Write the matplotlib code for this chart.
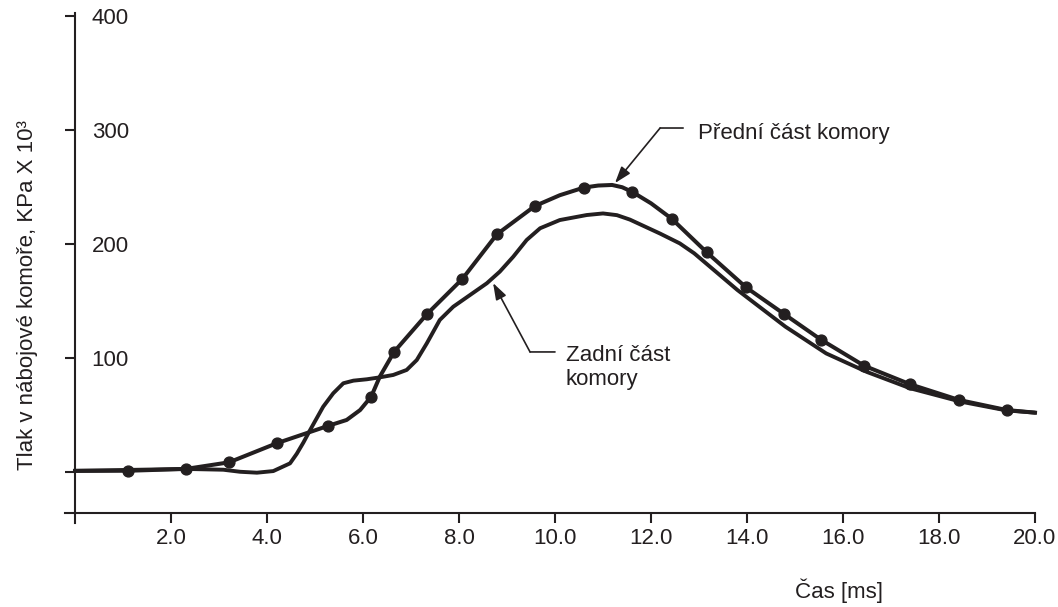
import matplotlib
matplotlib.use("Agg")
import matplotlib.pyplot as plt
from matplotlib.patches import ArrowStyle

# ---- data ----
front_x = [0.0, 1.11, 2.31, 3.21, 4.20, 5.28, 5.66, 5.94, 6.17, 6.35, 6.65, 7.33, 8.07,
           8.79, 9.58, 10.10, 10.60, 10.90, 11.19, 11.40, 11.61, 12.00, 12.43, 13.16,
           13.98, 14.77, 15.54, 16.44, 17.40, 18.42, 19.41, 20.0]
front_y = [1.0, 1.1, 2.7, 8.5, 25.2, 40.6, 45.7, 54.4, 66.1, 83.7, 105.6, 138.5, 169.5,
           208.7, 233.5, 243.0, 249.7, 251.5, 252.0, 250.0, 245.9, 235.9, 222.4, 192.9,
           162.1, 138.8, 116.2, 93.3, 77.0, 63.2, 54.4, 52.1]
front_dots = [1, 2, 3, 4, 5, 8, 10, 11, 12, 13, 14, 16, 20, 22, 23, 24, 25, 26, 27,
              28, 29, 30]

rear_x = [0.0, 2.3, 3.09, 3.44, 3.79, 4.13, 4.48, 4.62, 4.76, 4.90, 5.17, 5.38, 5.59,
          5.80, 6.08, 6.35, 6.63, 6.91, 7.12, 7.33, 7.60, 7.88, 8.23, 8.58, 8.85, 9.13,
          9.41, 9.69, 10.10, 10.66, 11.0, 11.29, 11.56, 12.19, 12.6, 12.9, 13.8, 14.8,
          15.65, 16.5, 17.4, 18.45, 19.4, 20.0]
rear_y = [1.0, 2.7, 2.0, 0.2, -0.6, 0.8, 7.6, 16, 26, 37, 57.3, 69.1, 77.9,
          80.2, 81.4, 83.1, 85.2, 89.6, 98.3, 113.0, 133.5, 145.1, 155.4, 165.7, 175.9,
          189.0, 203.7, 214.0, 221.2, 225.6, 227.0, 225.5, 221.6, 209.3, 200.7, 192.0,
          159.8, 127.6, 104.1, 87.8, 73.5, 61.8, 54.1, 52.1]

x_ticks = [2, 4, 6, 8, 10, 12, 14, 16, 18, 20]
x_labels = ["2.0", "4.0", "6.0", "8.0", "10.0", "12.0", "14.0", "16.0", "18.0", "20.0"]
y_ticks = [0, 100, 200, 300, 400]
y_labels = ["", "100", "200", "300", "400"]

INK = "#231f20"
plt.rcParams["font.family"] = ["Liberation Sans", "DejaVu Sans"]

W, H = 1058, 607
fig = plt.figure(figsize=(W / 100, H / 100), dpi=100)

# axes placement in pixels
x_left_px, x_right_px = 65.4, 1039.8
y_top_px, y_bot_px = 5.0, 523.2
ax = fig.add_axes([x_left_px / W, 1 - y_bot_px / H,
                   (x_right_px - x_left_px) / W, (y_bot_px - y_top_px) / H])
ax.set_xlim(-0.2, 20.1)
ax.set_ylim(-44.95, 410)

ax.plot(rear_x, rear_y, color=INK, lw=2.8, solid_capstyle="round", solid_joinstyle="round")
ax.plot(front_x, front_y, color=INK, lw=2.9, marker="o", markersize=7.8,
        markevery=front_dots, solid_joinstyle="round")

for s in ["top", "right"]:
    ax.spines[s].set_visible(False)
ax.spines["left"].set_position(("data", 0))
ax.spines["bottom"].set_position(("data", -36.0))
ax.spines["left"].set_bounds(-44.95, 403)
ax.spines["bottom"].set_bounds(-0.2, 20)
for s in ["left", "bottom"]:
    ax.spines[s].set_linewidth(1.5)
    ax.spines[s].set_color(INK)

ax.set_xticks(x_ticks)
ax.set_xticklabels(x_labels)
ax.set_yticks(y_ticks)
ax.set_yticklabels(y_labels)
ax.tick_params(axis="both", colors=INK, labelcolor=INK, labelsize=16,
               length=7.2, width=1.5, direction="out")
ax.tick_params(axis="x", pad=3.5)
ax.tick_params(axis="y", pad=-46)

fig.text(28 / W, 1 - 295 / H, "Tlak v nábojové komoře, KPa X 10³", rotation=90,
         ha="center", va="center", fontsize=16, color=INK)
fig.text(839 / W, 1 - 591 / H, "Čas [ms]", ha="center", va="center",
         fontsize=16, color=INK)

# annotations
arrow = ArrowStyle("-|>", head_length=0.5, head_width=0.17)
ax.text(12.98, 292.4, "Přední část komory", ha="left", va="baseline",
        fontsize=16, color=INK)
ax.annotate("", xy=(12.19, 302.0), xytext=(12.67, 302.0),
            arrowprops=dict(arrowstyle="-", lw=1.2, color=INK, shrinkA=0, shrinkB=0))
ax.annotate("", xy=(11.25, 253.7), xytext=(12.19, 302.0),
            arrowprops=dict(arrowstyle=arrow, lw=1.2, color=INK, shrinkA=0, shrinkB=0,
                            mutation_scale=20))

ax.text(10.22, 97.5, "Zadní část", ha="left", va="baseline", fontsize=16, color=INK)
ax.text(10.22, 76.4, "komory", ha="left", va="baseline", fontsize=16, color=INK)
ax.annotate("", xy=(9.48, 105.4), xytext=(10.0, 105.4),
            arrowprops=dict(arrowstyle="-", lw=1.2, color=INK, shrinkA=0, shrinkB=0))
ax.annotate("", xy=(8.71, 165.9), xytext=(9.48, 105.4),
            arrowprops=dict(arrowstyle=arrow, lw=1.2, color=INK, shrinkA=0, shrinkB=0,
                            mutation_scale=20))

fig.savefig("out.png", dpi=100)
